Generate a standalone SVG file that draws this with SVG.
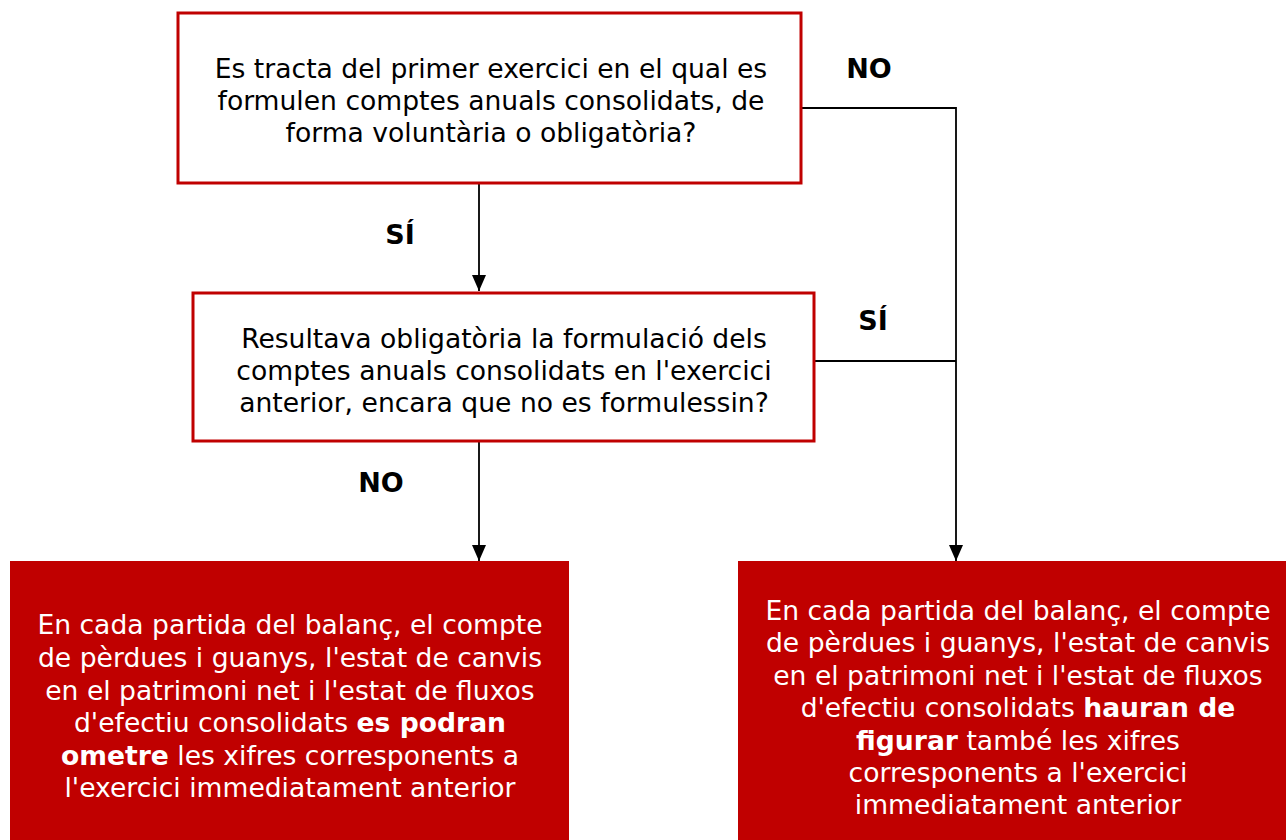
<svg xmlns="http://www.w3.org/2000/svg" width="1286" height="840" viewBox="0 0 1286 840">
<style>
.q{fill:#fff;stroke:#c00000;stroke-width:3}
.a{fill:#c00000}
.t{font-family:"DejaVu Sans",Verdana,sans-serif;font-size:26.6px;text-anchor:middle;fill:#000}
.l{font-size:27px;font-weight:bold}
.w{fill:#fff}
.b{font-weight:bold}
.c{fill:none;stroke:#000;stroke-width:1.8}
</style>
<defs>
<marker id="ah" viewBox="0 0 16 14" refX="16" refY="7" markerWidth="16" markerHeight="14" markerUnits="userSpaceOnUse" orient="auto">
<path d="M0,0 L16,7 L0,14 z" fill="#000"/>
</marker>
</defs>
<rect width="1286" height="840" fill="#fff"/>
<g id="connectors">
<path class="c" d="M479,184 V291" marker-end="url(#ah)"/>
<path class="c" d="M801,108 H956 V561" marker-end="url(#ah)"/>
<path class="c" d="M814,361 H956"/>
<path class="c" d="M479,441 V561" marker-end="url(#ah)"/>
<text class="t l" x="869" y="78">NO</text>
<text class="t l" x="400" y="244">SÍ</text>
<text class="t l" x="873" y="330">SÍ</text>
<text class="t l" x="381" y="492">NO</text>
</g>
<g id="q1">
<rect class="q" x="178" y="13" width="623" height="170"/>
<text class="t" x="491" y="78">Es tracta del primer exercici en el qual es</text>
<text class="t" x="491" y="110">formulen comptes anuals consolidats, de</text>
<text class="t" x="491" y="142">forma voluntària o obligatòria?</text>
</g>
<g id="q2">
<rect class="q" x="193" y="293" width="621" height="148"/>
<text class="t" x="504" y="348">Resultava obligatòria la formulació dels</text>
<text class="t" x="504" y="380">comptes anuals consolidats en l'exercici</text>
<text class="t" x="504" y="412">anterior, encara que no es formulessin?</text>
</g>
<g id="r1">
<rect class="a" x="10" y="561" width="559" height="279"/>
<text class="t w" x="290" y="634">En cada partida del balanç, el compte</text>
<text class="t w" x="290" y="667">de pèrdues i guanys, l'estat de canvis</text>
<text class="t w" x="290" y="700">en el patrimoni net i l'estat de fluxos</text>
<text class="t w" x="290" y="732">d'efectiu consolidats <tspan class="b">es podran</tspan></text>
<text class="t w" x="290" y="765"><tspan class="b">ometre</tspan> les xifres corresponents a</text>
<text class="t w" x="290" y="797">l'exercici immediatament anterior</text>
</g>
<g id="r2">
<rect class="a" x="738" y="561" width="548" height="279"/>
<text class="t w" x="1018" y="620">En cada partida del balanç, el compte</text>
<text class="t w" x="1018" y="652">de pèrdues i guanys, l'estat de canvis</text>
<text class="t w" x="1018" y="685">en el patrimoni net i l'estat de fluxos</text>
<text class="t w" x="1018" y="717">d'efectiu consolidats <tspan class="b">hauran de</tspan></text>
<text class="t w" x="1018" y="750"><tspan class="b">figurar</tspan> també les xifres</text>
<text class="t w" x="1018" y="782">corresponents a l'exercici</text>
<text class="t w" x="1018" y="814">immediatament anterior</text>
</g>
</svg>
